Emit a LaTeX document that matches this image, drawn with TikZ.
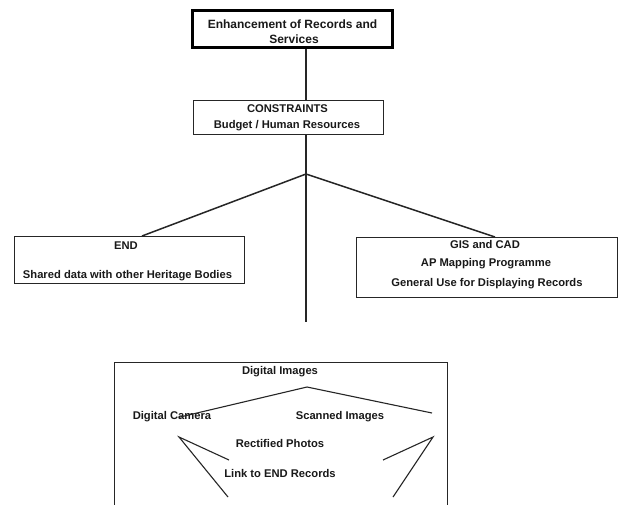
\documentclass[tikz,border=0pt]{standalone}
\usepackage{fontspec}
\setmainfont{Liberation Sans}
\usetikzlibrary{calc}
\tikzset{
  box/.style={draw=black!85, line width=1pt, fill=none, inner sep=0pt},
  thickbox/.style={draw=black, line width=3pt, inner sep=0pt},
  txt/.style={anchor=base, inner sep=0pt, font=\fontsize{11.2}{12}\selectfont\bfseries, text=black!90},
  bigtxt/.style={txt, font=\fontsize{12}{13}\selectfont\bfseries},
  conn/.style={draw=black!85, line width=1.5pt},
}
\begin{document}
\begin{tikzpicture}[x=1pt,y=-1pt]
\useasboundingbox[fill=white] (0,0) rectangle (623,504);
% boxes
\node[thickbox, minimum width=200pt, minimum height=37pt] (top) at (292,29) {};
\node[box, minimum width=190pt, minimum height=34pt] (cons) at (288,117) {};
\node[box, minimum width=230pt, minimum height=47pt] (endb) at (129,259.5) {};
\node[box, minimum width=261pt, minimum height=60pt] (gis) at (486.5,267) {};
\node[box, minimum width=333pt, minimum height=160pt] (dig) at (280.5,442) {};
% texts
\node[bigtxt] (t1) at (292.5,28) {Enhancement of Records and};
\node[bigtxt] (t2) at (294,43) {Services};
\node[txt] (t3) at (287.5,112) {CONSTRAINTS};
\node[txt] (t4) at (287,128) {Budget / Human Resources};
\node[txt] (t5) at (126,249) {END};
\node[txt] (t6) at (127.5,278) {Shared data with other Heritage Bodies};
\node[txt] (t7) at (485,248) {GIS and CAD};
\node[txt] (t8) at (486,266) {AP Mapping Programme};
\node[txt] (t9) at (487,286) {General Use for Displaying Records};
\node[txt] (d0) at (280,374) {Digital Images};
\node[txt] (d1) at (172,419) {Digital Camera};
\node[txt] (d2) at (340,419) {Scanned Images};
\node[txt] (d3) at (280,447) {Rectified Photos};
\node[txt] (d4) at (280,477) {Link to END Records};
% tree coordinates
\coordinate (apex) at (306,174);
\coordinate (e1) at (142,236);
\coordinate (g1) at (495,237);
\coordinate (foot) at (306,322);
\draw[conn] (apex |- top.south) -- (apex |- cons.north);
\draw[conn] (apex |- cons.south) -- (apex);
\draw[conn] (apex) -- (e1);
\draw[conn] (apex) -- (g1);
\draw[conn] (apex) -- (foot);
% inside digital images box
\coordinate (p0) at (180,417);
\coordinate (p1) at (307,387);
\coordinate (p2) at (432,413);
\draw[conn, line width=1.1pt] (p0) -- (p1) -- (p2);
\coordinate (l0) at (179,437);
\coordinate (l1) at (229,460);
\coordinate (l2) at (228,497);
\draw[conn, line width=1.1pt] (l1) -- (l0) -- (l2);
\coordinate (r0) at (433,437);
\coordinate (r1) at (383,460);
\coordinate (r2) at (393,497);
\draw[conn, line width=1.1pt] (r1) -- (r0) -- (r2);
\end{tikzpicture}
\end{document}
